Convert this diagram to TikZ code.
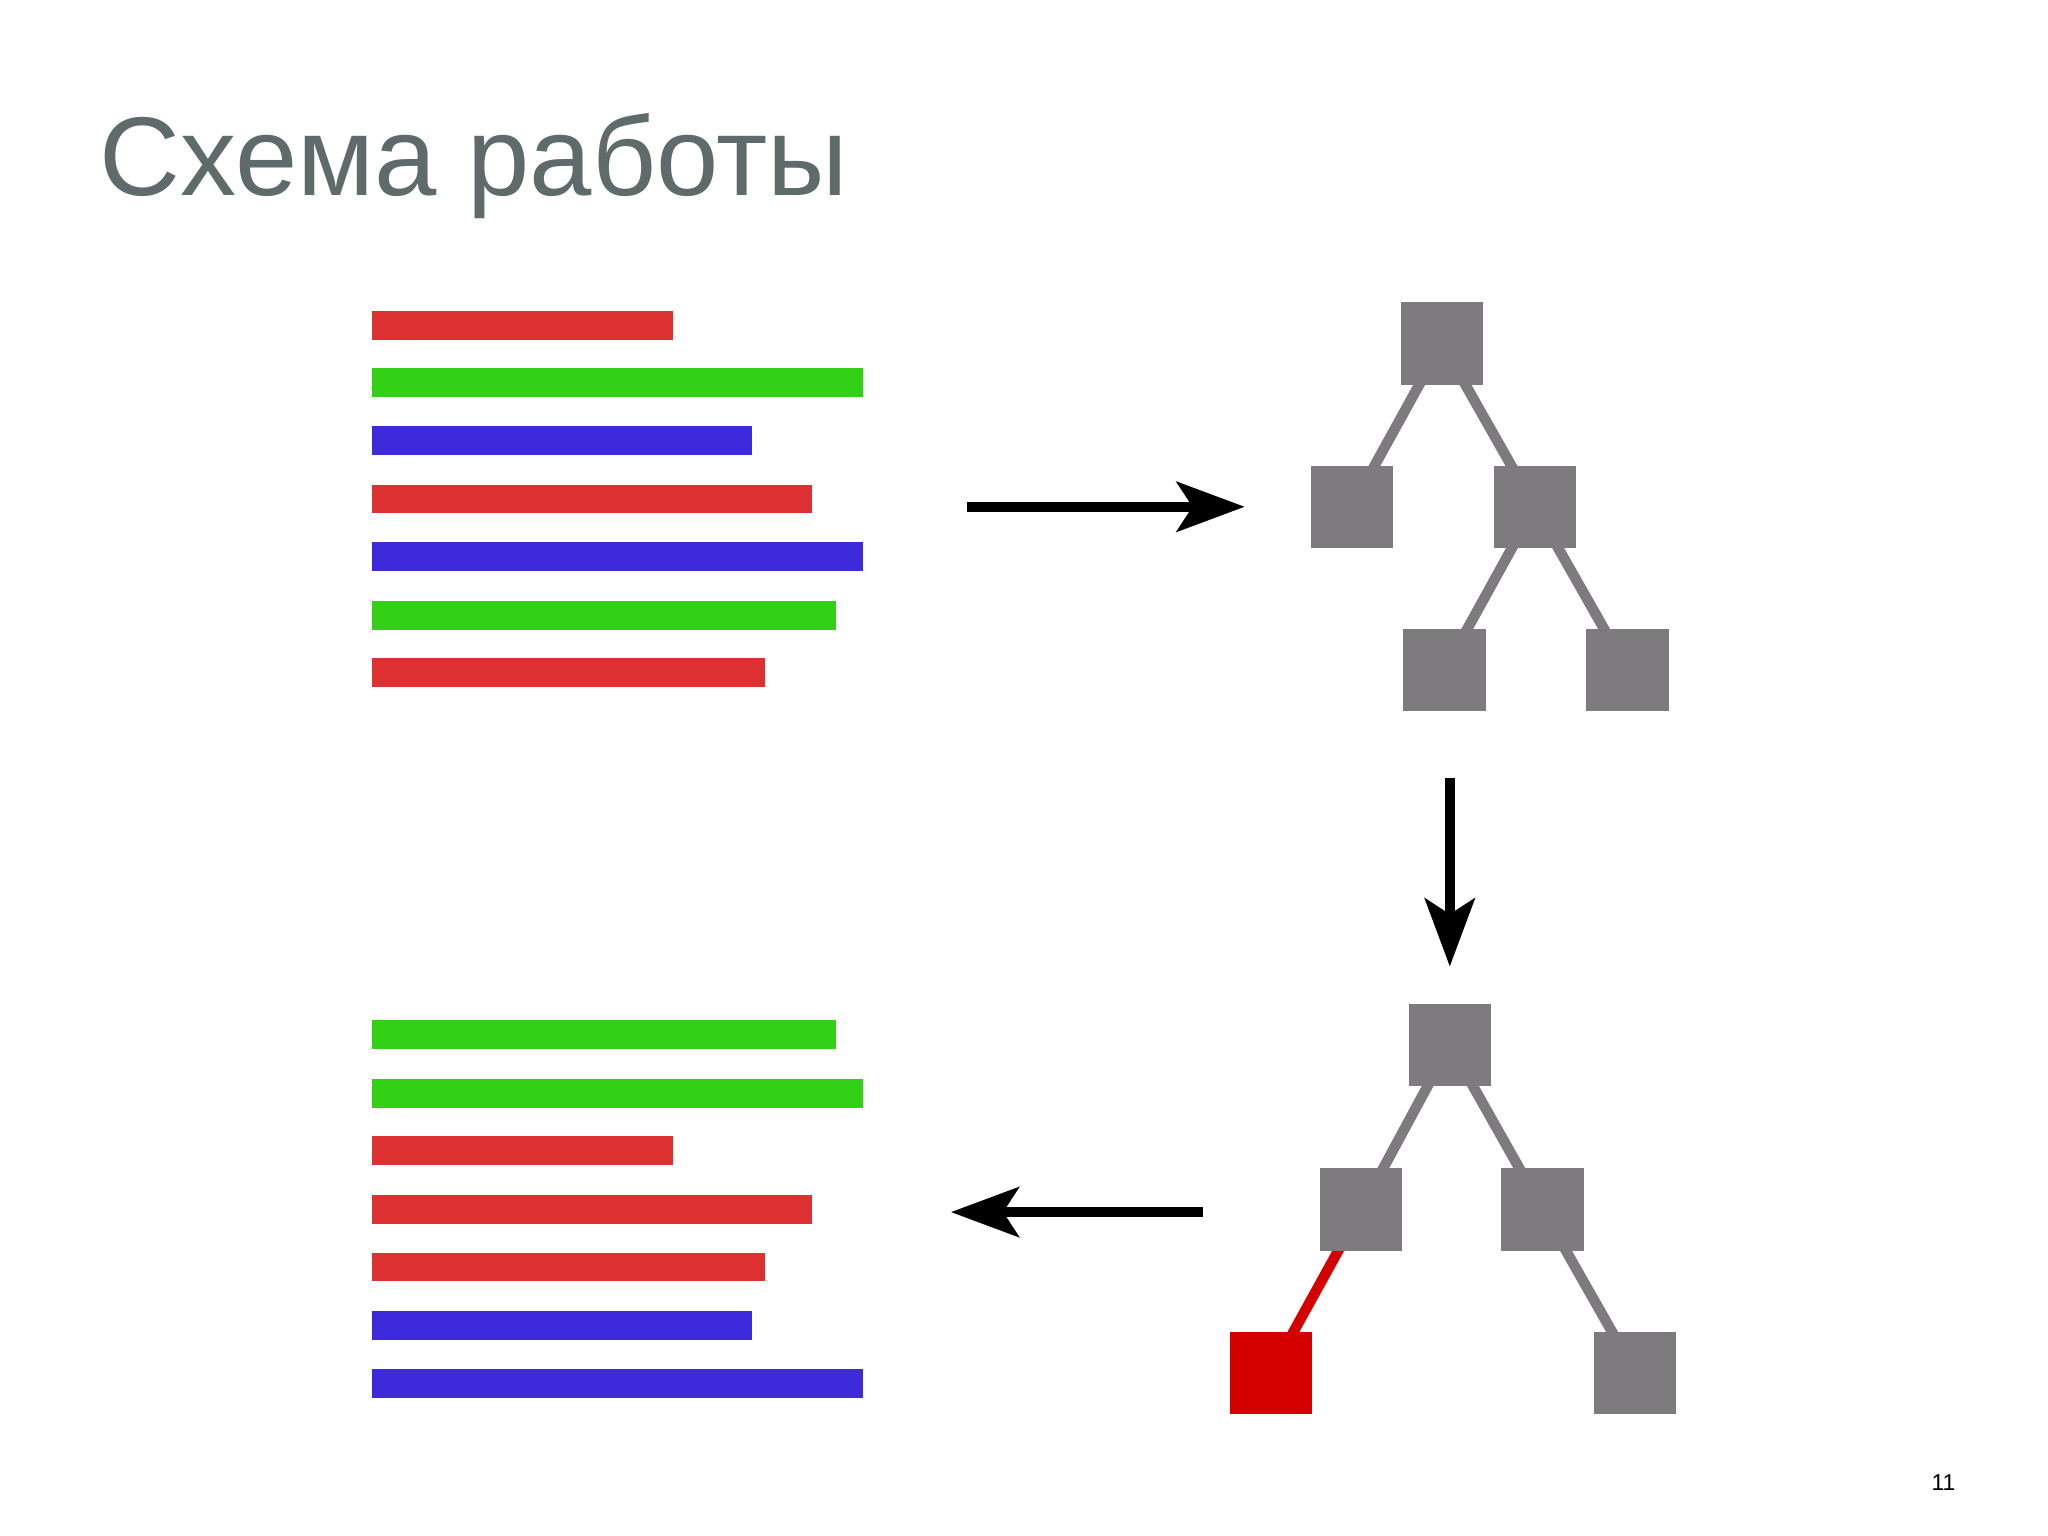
\documentclass[tikz,border=0pt]{standalone}
\usepackage{fontspec}
\setmainfont{Liberation Sans}
\usetikzlibrary{arrows.meta}
\definecolor{tgray}{HTML}{5F6B6B}
\definecolor{bred}{HTML}{DD3030}
\definecolor{bgreen}{HTML}{33D018}
\definecolor{bblue}{HTML}{3D2BDB}
\definecolor{sq}{HTML}{7D7B7D}
\definecolor{sqred}{HTML}{D40000}
\begin{document}
\begin{tikzpicture}[x=0.05cm,y=-0.05cm,
  box/.style={fill=sq,minimum size=3.15cm,inner sep=0pt,outer sep=0pt},
  redbox/.style={box,fill=sqred},
  edge/.style={draw=sq,line width=0.4cm},
  redge/.style={draw=sqred,line width=0.4cm},
  arr/.style={line width=0.4cm,-{Stealth[length=2.6cm,width=1.9cm,inset=0.6cm]}}]
\useasboundingbox[fill=white] (0,0) rectangle (1568,1176);
\node[anchor=base west,text=tgray,font=\fontsize{122}{130}\selectfont,inner sep=0pt] (title) at (76,150) {Схема работы};
\node[anchor=base,font=\fontsize{25}{30}\selectfont,inner sep=0pt] (pg) at (1488,1141) {11};
% top bars
\foreach \y/\e/\c in {249/515/bred,293/661/bgreen,337/576/bblue,382/622/bred,426/661/bblue,471/640/bgreen,515/586/bred}
  \fill[\c] (285,\y-11) rectangle (\e,\y+11);
\foreach \y/\e/\c in {792/640/bgreen,837/661/bgreen,881/515/bred,926/622/bred,970/586/bred,1015/576/bblue,1059/661/bblue}
  \fill[\c] (285,\y-11) rectangle (\e,\y+11);
% tree 1
\coordinate (r1) at (1104,263); \coordinate (a1) at (1035,388); \coordinate (b1) at (1175,388);
\coordinate (c1) at (1106,513); \coordinate (d1) at (1246,513);
\draw[edge] (r1)--(a1) (r1)--(b1) (b1)--(c1) (b1)--(d1);
\node[box] (R1) at (r1) {}; \node[box] (A1) at (a1) {}; \node[box] (B1) at (b1) {};
\node[box] (C1) at (c1) {}; \node[box] (D1) at (d1) {};
% tree 2
\coordinate (r2) at (1110,800); \coordinate (a2) at (1042,926); \coordinate (b2) at (1181,926);
\coordinate (c2) at (973,1051); \coordinate (d2) at (1252,1051);
\draw[edge] (r2)--(a2) (r2)--(b2) (b2)--(d2);
\draw[redge] (a2)--(c2);
\node[box] (R2) at (r2) {}; \node[box] (A2) at (a2) {}; \node[box] (B2) at (b2) {};
\node[redbox] (C2) at (c2) {}; \node[box] (D2) at (d2) {};
% arrows
\coordinate (s1) at (740,388); \coordinate (e1) at (953,388);
\coordinate (s2) at (1110,596); \coordinate (e2) at (1110,740);
\coordinate (s3) at (921,928); \coordinate (e3) at (728,928);
\draw[arr] (s1)--(e1);
\draw[arr] (s2)--(e2);
\draw[arr] (s3)--(e3);
\end{tikzpicture}
\end{document}
